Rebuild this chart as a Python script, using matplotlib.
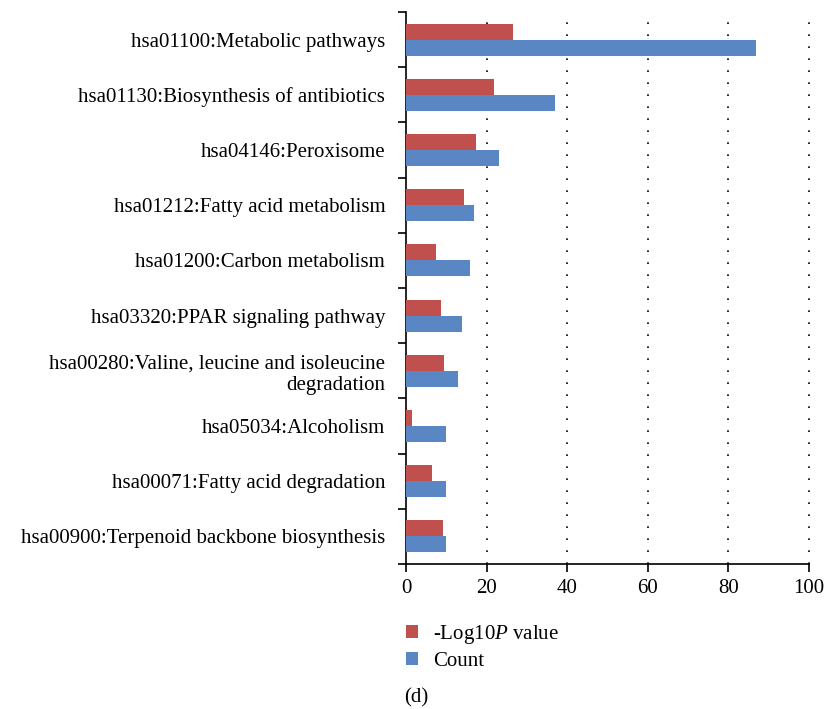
import numpy as np
import matplotlib.pyplot as plt

# KEGG pathway enrichment
pathways = [
    "hsa01100:Metabolic pathways",
    "hsa01130:Biosynthesis of antibiotics",
    "hsa04146:Peroxisome",
    "hsa01212:Fatty acid metabolism",
    "hsa01200:Carbon metabolism",
    "hsa03320:PPAR signaling pathway",
    "hsa00280:Valine, leucine and isoleucine\ndegradation",
    "hsa05034:Alcoholism",
    "hsa00071:Fatty acid degradation",
    "hsa00900:Terpenoid backbone biosynthesis",
]
log_p = [26.6, 21.9, 17.5, 14.5, 7.5, 8.6, 9.4, 1.6, 6.5, 9.3]
count = [87, 37, 23, 17, 16, 14, 13, 10, 10, 10]
xticks = [0, 20, 40, 60, 80, 100]

red = "#C0504D"
blue = "#5A87C4"

plt.rcParams['font.family'] = ['Liberation Serif', 'DejaVu Serif']
plt.rcParams['font.size'] = 15
plt.rcParams['mathtext.fontset'] = 'custom'
plt.rcParams['mathtext.it'] = 'Liberation Serif:italic'
plt.rcParams['mathtext.rm'] = 'Liberation Serif'

fig = plt.figure(figsize=(8.24, 7.09), dpi=100)
ax = fig.add_axes([0.4927, 0.2045, 0.4887, 0.7785])

y = np.arange(len(pathways))
h = 0.29
b1 = ax.barh(y - h / 2, log_p, height=h, color=red, label="-Log10$\\it{P}$ value", zorder=3)
b2 = ax.barh(y + h / 2, count, height=h, color=blue, label="Count", zorder=3)

ax.set_xlim(0, 100)
ax.set_ylim(len(pathways) - 0.5, -0.5)
ax.set_xticks(xticks)
ax.set_yticks(y)
ax.set_yticklabels(pathways, ha='right', linespacing=1.2)
ax.set_yticks(np.arange(-0.5, len(pathways)), minor=True)
ax.tick_params(axis='y', which='major', length=0, pad=15)
ax.tick_params(axis='y', which='minor', length=6, width=1.2, direction='out')
ax.tick_params(axis='x', length=6, width=1.2, direction='out', pad=5)

for s in ['top', 'right']:
    ax.spines[s].set_visible(False)
for s in ['left', 'bottom']:
    ax.spines[s].set_linewidth(1.2)

for xv in xticks[1:]:
    ax.axvline(xv, color='black', linestyle=(0, (1, 6.2)), lw=1.2, zorder=1, clip_on=False)

fig.legend(handles=[b1, b2], loc='upper left', bbox_to_anchor=(0.4805, 0.1365),
           frameon=False, handlelength=0.55, handleheight=0.55, handletextpad=0.72,
           labelspacing=0.3, borderpad=0)
fig.text(0.491, 0.0155, "(d)", ha='left', va='center')

fig.savefig("out.png", dpi=100)
